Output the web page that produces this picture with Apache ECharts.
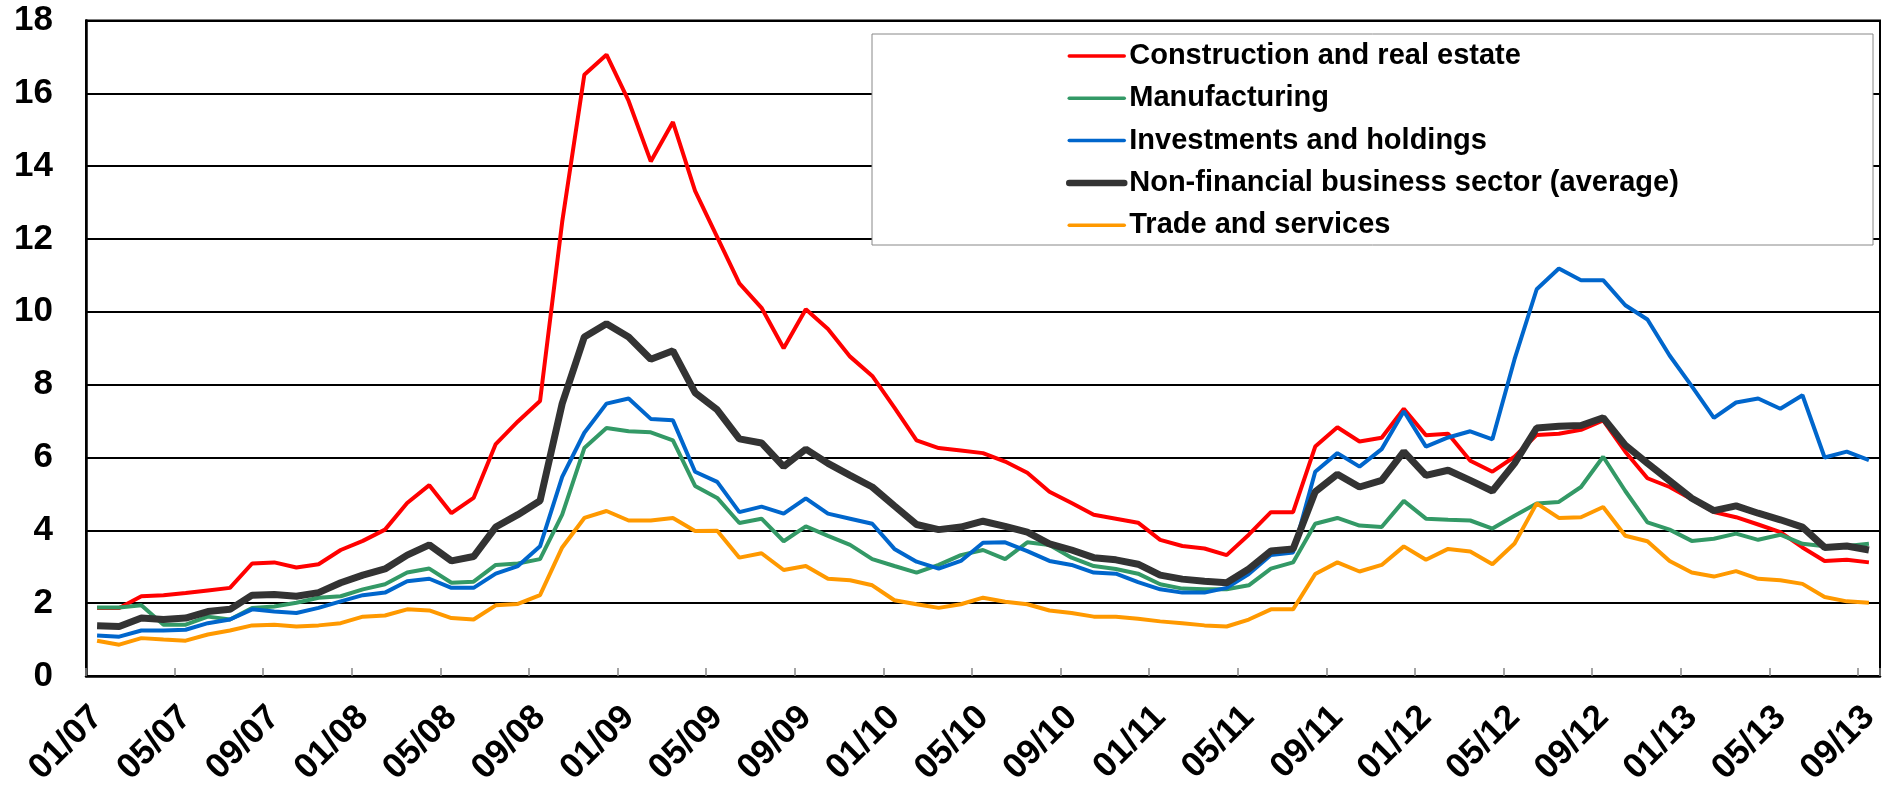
<!DOCTYPE html>
<html>
<head>
<meta charset="utf-8">
<script src="https://cdn.jsdelivr.net/npm/echarts@6/dist/echarts.min.js"></script>
<style>
  html, body { margin: 0; padding: 0; background: #fff; }
  #chart { width: 1892px; height: 790px; }
</style>
</head>
<body>
<div id="chart"></div>
<script>
// months 01/07 .. 09/13
const months = [
  '01/07', '02/07', '03/07', '04/07', '05/07', '06/07', '07/07', '08/07', '09/07', '10/07', '11/07', '12/07',
  '01/08', '02/08', '03/08', '04/08', '05/08', '06/08', '07/08', '08/08', '09/08', '10/08', '11/08', '12/08',
  '01/09', '02/09', '03/09', '04/09', '05/09', '06/09', '07/09', '08/09', '09/09', '10/09', '11/09', '12/09',
  '01/10', '02/10', '03/10', '04/10', '05/10', '06/10', '07/10', '08/10', '09/10', '10/10', '11/10', '12/10',
  '01/11', '02/11', '03/11', '04/11', '05/11', '06/11', '07/11', '08/11', '09/11', '10/11', '11/11', '12/11',
  '01/12', '02/12', '03/12', '04/12', '05/12', '06/12', '07/12', '08/12', '09/12', '10/12', '11/12', '12/12',
  '01/13', '02/13', '03/13', '04/13', '05/13', '06/13', '07/13', '08/13', '09/13'
]

const construction = [
  1.87, 1.87, 2.19, 2.22, 2.28, 2.35, 2.42, 3.09, 3.12, 2.98, 3.07, 3.46,
  3.71, 4.02, 4.75, 5.24, 4.47, 4.89, 6.37, 6.99, 7.55, 12.47, 16.51, 17.06,
  15.79, 14.13, 15.21, 13.32, 12.05, 10.78, 10.11, 9.0, 10.07, 9.53, 8.77, 8.24,
  7.37, 6.47, 6.26, 6.19, 6.12, 5.89, 5.58, 5.06, 4.75, 4.43, 4.32, 4.21,
  3.74, 3.57, 3.50, 3.32, 3.88, 4.50, 4.50, 6.30, 6.83, 6.44, 6.54, 7.34,
  6.61, 6.65, 5.91, 5.61, 6.02, 6.62, 6.65, 6.76, 7.02, 6.16, 5.43, 5.19,
  4.85, 4.50, 4.36, 4.16, 3.95, 3.53, 3.16, 3.19, 3.12
]

const manufacturing = [
  1.88, 1.88, 1.94, 1.41, 1.41, 1.63, 1.55, 1.87, 1.91, 2.01, 2.15, 2.19,
  2.38, 2.52, 2.84, 2.95, 2.56, 2.59, 3.05, 3.09, 3.21, 4.43, 6.26, 6.81,
  6.72, 6.69, 6.47, 5.22, 4.89, 4.20, 4.32, 3.70, 4.11, 3.85, 3.60, 3.21,
  3.02, 2.84, 3.05, 3.32, 3.46, 3.21, 3.67, 3.60, 3.25, 3.02, 2.94, 2.81,
  2.52, 2.40, 2.38, 2.38, 2.49, 2.95, 3.12, 4.18, 4.34, 4.13, 4.09, 4.81,
  4.32, 4.29, 4.27, 4.05, 4.40, 4.74, 4.78, 5.19, 6.02, 5.08, 4.22, 4.02,
  3.71, 3.77, 3.91, 3.74, 3.88, 3.63, 3.56, 3.57, 3.63
]

const investments = [
  1.11, 1.08, 1.25, 1.25, 1.27, 1.45, 1.55, 1.83, 1.77, 1.73, 1.87, 2.05,
  2.22, 2.29, 2.60, 2.67, 2.42, 2.42, 2.81, 3.02, 3.56, 5.47, 6.68, 7.48,
  7.62, 7.06, 7.02, 5.61, 5.33, 4.50, 4.65, 4.46, 4.88, 4.46, 4.32, 4.18,
  3.49, 3.14, 2.95, 3.16, 3.66, 3.67, 3.43, 3.16, 3.05, 2.84, 2.81, 2.58,
  2.38, 2.29, 2.29, 2.42, 2.80, 3.32, 3.39, 5.61, 6.12, 5.75, 6.23, 7.27,
  6.30, 6.55, 6.72, 6.50, 8.70, 10.62, 11.19, 10.87, 10.87, 10.18, 9.79, 8.80,
  7.96, 7.09, 7.51, 7.62, 7.34, 7.71, 6.00, 6.16, 5.93
]

const nonFinancial = [
  1.38, 1.36, 1.59, 1.55, 1.59, 1.77, 1.83, 2.22, 2.24, 2.19, 2.29, 2.56,
  2.77, 2.94, 3.32, 3.60, 3.16, 3.28, 4.09, 4.43, 4.81, 7.48, 9.31, 9.67,
  9.31, 8.70, 8.93, 7.78, 7.31, 6.51, 6.40, 5.75, 6.23, 5.84, 5.51, 5.19,
  4.67, 4.16, 4.02, 4.09, 4.25, 4.11, 3.95, 3.63, 3.46, 3.25, 3.19, 3.07,
  2.77, 2.66, 2.60, 2.56, 2.94, 3.43, 3.49, 5.06, 5.54, 5.19, 5.37, 6.16,
  5.51, 5.65, 5.37, 5.08, 5.84, 6.81, 6.86, 6.88, 7.09, 6.34, 5.84, 5.36,
  4.88, 4.54, 4.67, 4.47, 4.29, 4.09, 3.53, 3.57, 3.46
]

const trade = [
  0.97, 0.86, 1.04, 1.00, 0.97, 1.14, 1.25, 1.39, 1.41, 1.36, 1.39, 1.45,
  1.63, 1.66, 1.83, 1.80, 1.59, 1.55, 1.94, 1.98, 2.22, 3.53, 4.34, 4.53,
  4.27, 4.27, 4.34, 3.98, 3.99, 3.25, 3.37, 2.91, 3.02, 2.67, 2.63, 2.49,
  2.08, 1.97, 1.87, 1.97, 2.15, 2.04, 1.97, 1.80, 1.73, 1.63, 1.63, 1.57,
  1.50, 1.45, 1.39, 1.36, 1.55, 1.83, 1.83, 2.80, 3.12, 2.87, 3.05, 3.56,
  3.19, 3.49, 3.42, 3.07, 3.64, 4.74, 4.34, 4.36, 4.64, 3.85, 3.70, 3.16,
  2.84, 2.73, 2.88, 2.67, 2.63, 2.53, 2.17, 2.05, 2.01
]

const FONT = '"Liberation Sans", Arial, sans-serif'

const seriesDefs = [
  { name: 'Construction and real estate', data: construction, color: '#FF0000', width: 4, legendWidth: 3.5 },
  { name: 'Manufacturing', data: manufacturing, color: '#339966', width: 4, legendWidth: 3.5 },
  { name: 'Investments and holdings', data: investments, color: '#0066CC', width: 4, legendWidth: 3.5 },
  { name: 'Non-financial business sector (average)', data: nonFinancial, color: '#333333', width: 7, legendWidth: 6.5 },
  { name: 'Trade and services', data: trade, color: '#FF9900', width: 4, legendWidth: 3.5 }
]

const chart = echarts.init(document.getElementById('chart'))
chart.setOption({
  animation: false,
  textStyle: { fontFamily: FONT },
  grid: {
    left: 86,
    right: 12,
    top: 20.5,
    bottom: 114,
    show: true,
    borderColor: '#000',
    borderWidth: 2,
    containLabel: false,
    outerBoundsMode: 'none'
  },
  legend: {
    orient: 'vertical',
    left: 1061,
    top: 36,
    z: 20,
    itemWidth: 55,
    itemHeight: 14,
    itemGap: 12.3,
    itemStyle: { opacity: 0 }, // 只要线，不要圆点
    data: seriesDefs.map(function (s) {
      return { name: s.name, lineStyle: { color: s.color, width: s.legendWidth, cap: 'round' } }
    }),
    textStyle: {
      fontFamily: FONT,
      fontSize: 29,
      fontWeight: 'bold',
      color: '#000',
      lineHeight: 30
    }
  },
  graphic: [{
    type: 'rect',
    z: 10,
    shape: { x: 872, y: 34, width: 1001, height: 211 },
    style: { fill: '#fff', stroke: '#888', lineWidth: 1 }
  }],
  xAxis: {
    type: 'category',
    data: months,
    boundaryGap: true,
    axisLine: { lineStyle: { color: '#000', width: 2.5 } },
    axisTick: {
      show: true,
      inside: true,
      interval: 3,
      length: 8,
      lineStyle: { color: '#888', width: 1.5 }
    },
    axisLabel: {
      interval: 3,
      rotate: 45,
      margin: 36,
      fontFamily: FONT,
      fontSize: 35,
      fontWeight: 'bold',
      color: '#000'
    },
    splitLine: { show: false }
  },
  yAxis: {
    type: 'value',
    min: 0,
    max: 18,
    interval: 2,
    axisLine: { show: true, lineStyle: { color: '#000', width: 2.5 } },
    axisTick: { show: false },
    axisLabel: {
      margin: 33,
      fontFamily: FONT,
      fontSize: 35,
      fontWeight: 'bold',
      color: '#000'
    },
    splitLine: { lineStyle: { color: '#000', width: 2 } }
  },
  series: seriesDefs.map(function (s) {
    return {
      name: s.name,
      type: 'line',
      data: s.data,
      symbol: 'none',
      showSymbol: false,
      color: s.color,
      lineStyle: { color: s.color, width: s.width },
      emphasis: { disabled: true }
    }
  })
})
window.addEventListener('resize', function () { chart.resize() })
</script>
</body>
</html>
